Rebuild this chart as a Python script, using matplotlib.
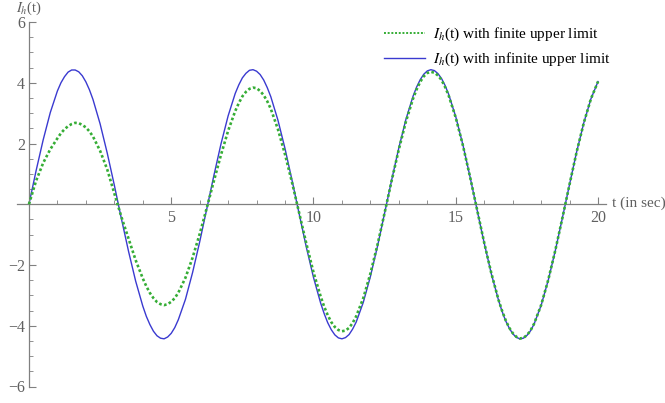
import matplotlib
matplotlib.use("Agg")
import matplotlib.pyplot as plt
from matplotlib.ticker import MultipleLocator, FixedLocator
from matplotlib.lines import Line2D

plt.rcParams['font.family'] = ['Liberation Serif', 'DejaVu Serif']
plt.rcParams['mathtext.fontset'] = 'stix'

# time samples (s), denser around the extrema
t = [0.0, 0.25, 0.5, 0.75, 1.0, 1.125, 1.25, 1.375, 1.5, 1.625, 1.75, 1.875, 2.0, 2.125, 2.25, 2.5, 2.75,
     3.0, 3.25, 3.5, 3.75, 4.0, 4.125, 4.25, 4.375, 4.5, 4.625, 4.75, 4.875, 5.0, 5.125, 5.25, 5.5, 5.75,
     6.0, 6.25, 6.5, 6.75, 7.0, 7.25, 7.375, 7.5, 7.625, 7.75, 7.875, 8.0, 8.125, 8.25, 8.375, 8.5, 8.75,
     9.0, 9.25, 9.5, 9.75, 10.0, 10.25, 10.375, 10.5, 10.625, 10.75, 10.875, 11.0, 11.125, 11.25, 11.375, 11.5, 11.75,
     12.0, 12.25, 12.5, 12.75, 13.0, 13.25, 13.5, 13.625, 13.75, 13.875, 14.0, 14.125, 14.25, 14.375, 14.5, 14.625, 14.75,
     15.0, 15.25, 15.5, 15.75, 16.0, 16.25, 16.5, 16.625, 16.75, 16.875, 17.0, 17.125, 17.25, 17.375, 17.5, 17.625, 17.75,
     18.0, 18.25, 18.5, 18.75, 19.0, 19.25, 19.5, 19.75, 20.0]

# I_h(t) with finite upper limit (green dotted)
finite = [0.0, 0.77, 1.36, 1.81, 2.17, 2.34, 2.47, 2.57, 2.64, 2.68, 2.67, 2.61, 2.53, 2.40, 2.23, 1.76, 1.15,
          0.36, -0.42, -1.13, -1.84, -2.44, -2.70, -2.92, -3.09, -3.22, -3.29, -3.32, -3.29, -3.21, -3.09, -2.91, -2.42, -1.76,
          -0.98, -0.12, 0.77, 1.63, 2.42, 3.07, 3.33, 3.55, 3.70, 3.80, 3.84, 3.82, 3.73, 3.59, 3.39, 3.14, 2.47,
          1.64, 0.70, -0.30, -1.30, -2.24, -3.03, -3.37, -3.65, -3.88, -4.04, -4.14, -4.18, -4.16, -4.07, -3.91, -3.69, -3.09,
          -2.28, -1.33, -0.28, 0.79, 1.81, 2.73, 3.48, 3.78, 4.03, 4.21, 4.32, 4.36, 4.33, 4.24, 4.09, 3.86, 3.58,
          2.85, 1.94, 0.91, -0.18, -1.27, -2.27, -3.14, -3.50, -3.81, -4.06, -4.24, -4.36, -4.42, -4.40, -4.31, -4.16, -3.94,
          -3.32, -2.49, -1.51, -0.44, 0.66, 1.73, 2.68, 3.47, 4.04]

# I_h(t) with infinite upper limit (blue solid)
infinite = [0.0, 1.10, 2.12, 3.02, 3.73, 4.00, 4.20, 4.35, 4.42, 4.42, 4.36, 4.23, 4.03, 3.77, 3.45, 2.65, 1.69,
            0.63, -0.48, -1.55, -2.53, -3.35, -3.69, -3.96, -4.18, -4.33, -4.41, -4.43, -4.37, -4.25, -4.06, -3.80, -3.13, -2.25,
            -1.24, -0.15, 0.95, 1.99, 2.91, 3.65, 3.93, 4.16, 4.31, 4.41, 4.43, 4.38, 4.27, 4.09, 3.84, 3.54, 2.77,
            1.83, 0.77, -0.33, -1.42, -2.41, -3.25, -3.60, -3.90, -4.13, -4.30, -4.40, -4.43, -4.39, -4.29, -4.11, -3.88, -3.23,
            -2.38, -1.38, -0.29, 0.81, 1.86, 2.80, 3.56, 3.86, 4.10, 4.28, 4.39, 4.43, 4.40, 4.30, 4.14, 3.91, 3.62,
            2.88, 1.96, 0.91, -0.19, -1.28, -2.29, -3.15, -3.52, -3.83, -4.07, -4.26, -4.38, -4.43, -4.41, -4.32, -4.17, -3.95,
            -3.33, -2.50, -1.52, -0.44, 0.66, 1.73, 2.68, 3.47, 4.04]

x_ticks = [5, 10, 15, 20]
y_ticks = [-6, -4, -2, 2, 4, 6]
labels = [r"$I_h$(t) with finite upper limit", r"$I_h$(t) with infinite upper limit"]

GREEN = '#35ad35'
BLUE = '#3a3ad0'
AXC = '#808080'
TXC = '#606060'

fig = plt.figure(figsize=(6.65, 4.03), dpi=100)
ax = fig.add_axes([17/665, 1 - 386.5/403, (606 - 17)/665, (386.5 - 22)/403])

ax.plot(t, infinite, color=BLUE, lw=1.0, zorder=2)
ax.plot(t, finite, color=GREEN, lw=1.9, linestyle=(0, (1, 0.9)), zorder=3)

ax.set_xlim(-0.42, 20.28)
ax.set_ylim(-6, 6)

for s in ['top', 'right']:
    ax.spines[s].set_visible(False)
ax.spines['left'].set_position(('data', 0))
ax.spines['bottom'].set_position(('data', 0))
for s in ['left', 'bottom']:
    ax.spines[s].set_color(AXC)
    ax.spines[s].set_linewidth(0.9)

ax.xaxis.set_major_locator(FixedLocator(x_ticks))
ax.xaxis.set_minor_locator(MultipleLocator(1))
ax.yaxis.set_major_locator(FixedLocator(y_ticks))
ax.yaxis.set_minor_locator(MultipleLocator(0.5))
ax.tick_params(axis='both', which='major', direction='in', length=5, width=0.8, color=AXC,
               labelsize=11.5, labelcolor=TXC)
ax.tick_params(axis='both', which='minor', direction='in', length=3, width=0.6, color=AXC)
ax.tick_params(axis='x', pad=4)
ax.tick_params(axis='y', pad=3)

fig.text(16/665, 1 - 0/403, r"$I_h$(t)", ha='left', va='top', fontsize=10.5, color=TXC)
fig.text(612/665, 1 - 203/403, "t (in sec)", ha='left', va='center', fontsize=11, color=TXC)

handles = [Line2D([], [], color=GREEN, lw=1.4, linestyle=(0, (1, 0.9))),
           Line2D([], [], color=BLUE, lw=1.0)]
ax.legend(handles, labels, loc='upper left', bbox_to_anchor=(384/665, 1 - 26/403),
          bbox_transform=fig.transFigure, frameon=False, fontsize=11, handlelength=2.7,
          handletextpad=0.5, labelspacing=0.5, borderaxespad=0, borderpad=0)

fig.savefig('out.png', dpi=100, facecolor='white')
